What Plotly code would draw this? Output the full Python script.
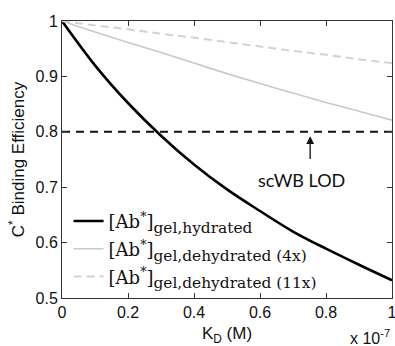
import plotly.graph_objects as go

# K_D in units of 1e-7 M
kd = [0.0, 0.1, 0.2, 0.3, 0.4, 0.5, 0.6, 0.7, 0.8, 0.9, 1.0]
eff_hydrated = [1.0, 0.920, 0.852, 0.793, 0.741, 0.696, 0.657, 0.620, 0.589, 0.560, 0.532]
eff_dehyd_4x = [1.0, 0.980, 0.961, 0.943, 0.924, 0.905, 0.887, 0.870, 0.853, 0.837, 0.821]
eff_dehyd_11x = [1.0, 0.992, 0.985, 0.977, 0.970, 0.962, 0.954, 0.946, 0.939, 0.931, 0.924]
lod_level = 0.8
lod_x = [0.0, 1.0]

x_ticks = [0, 0.2, 0.4, 0.6, 0.8, 1.0]
x_tick_text = ["0", "0.2", "0.4", "0.6", "0.8", "1"]
y_ticks = [0.5, 0.6, 0.7, 0.8, 0.9, 1.0]
y_tick_text = ["0.5", "0.6", "0.7", "0.8", "0.9", "1"]

main_style = "font-size:18px"
sub_style = "font-size:22px"
names = [
    f'<span style="{main_style}">[Ab<sup>*</sup>]</span><span style="{sub_style}"><sub>gel,hydrated</sub></span>',
    f'<span style="{main_style}">[Ab<sup>*</sup>]</span><span style="{sub_style}"><sub>gel,dehydrated (4x)</sub></span>',
    f'<span style="{main_style}">[Ab<sup>*</sup>]</span><span style="{sub_style}"><sub>gel,dehydrated (11x)</sub></span>',
]

fig = go.Figure()
fig.add_trace(go.Scatter(x=lod_x, y=[lod_level] * len(lod_x), mode="lines",
                         line=dict(color="#111111", width=2, dash="8px,6px"),
                         showlegend=False, hoverinfo="skip"))
fig.add_trace(go.Scatter(x=kd, y=eff_hydrated, mode="lines", name=names[0], legendgroup="a",
                         line=dict(color="#000000", width=2.6, shape="spline")))
fig.add_trace(go.Scatter(x=kd, y=eff_dehyd_4x, mode="lines", name=names[1], legendgroup="b",
                         line=dict(color="#c9c9c9", width=1.6, shape="spline")))
fig.add_trace(go.Scatter(x=kd, y=eff_dehyd_11x, mode="lines", name=names[2], legendgroup="c",
                         line=dict(color="#d2d2d2", width=2, dash="8px,5px", shape="spline")))

axis_common = dict(showline=True, linecolor="#333333", linewidth=1, mirror="ticks",
                   ticks="inside", ticklen=5, tickcolor="#333333", showgrid=False,
                   zeroline=False, automargin=False, ticklabeloverflow="allow",
                   tickfont=dict(family="Liberation Sans, Arial", size=16, color="#111111"))

fig.update_xaxes(range=[0, 1], tickvals=x_ticks, ticktext=x_tick_text,
                 title=dict(text="K<sub>D</sub> (M)", standoff=8,
                            font=dict(family="Liberation Sans, Arial", size=17, color="#111111")),
                 **axis_common)
fig.update_yaxes(range=[0.5, 1], tickvals=y_ticks, ticktext=y_tick_text,
                 title=dict(text="C<sup>*</sup> Binding Efficiency", standoff=6,
                            font=dict(family="Liberation Sans, Arial", size=17, color="#111111")),
                 **axis_common)

fig.add_annotation(x=0.752, y=0.792, ax=0.752, ay=0.748, xref="x", yref="y",
                   axref="x", ayref="y", text="", showarrow=True,
                   arrowhead=2, arrowsize=1.2, arrowwidth=1.3, arrowcolor="#111111")
fig.add_annotation(x=0.725, y=0.713, xref="x", yref="y", text="scWB LOD",
                   showarrow=False, font=dict(family="Lato, Open Sans", size=18, color="#111111"))
fig.add_annotation(x=1.0, y=-0.14, xref="paper", yref="paper", xanchor="right", yanchor="middle",
                   text="x 10<sup>-7</sup>", showarrow=False,
                   font=dict(family="Liberation Sans, Arial", size=16, color="#111111"))

fig.update_layout(
    width=395, height=346,
    margin=dict(l=62, r=3, t=21, b=48),
    paper_bgcolor="white", plot_bgcolor="white",
    showlegend=True,
    legend=dict(x=0.02, y=0.346, xanchor="left", yanchor="top",
                bgcolor="rgba(0,0,0,0)", borderwidth=0,
                font=dict(family="DejaVu Serif, Liberation Serif", size=19, color="#111111"),
                tracegroupgap=0),
)

fig.write_html("out.html")
